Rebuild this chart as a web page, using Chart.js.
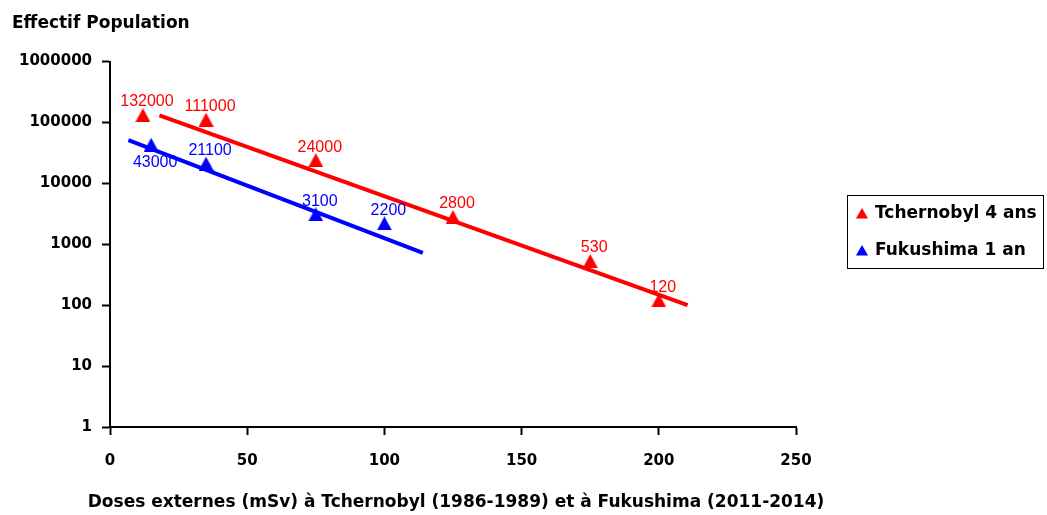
<!DOCTYPE html>
<html><head><meta charset="utf-8">
<script src="https://cdn.jsdelivr.net/npm/chart.js@4.4.1/dist/chart.umd.min.js"></script>
<style>html,body{margin:0;padding:0;background:#fff}</style>
</head><body>
<canvas id="c" width="1047" height="515"></canvas>
<script>
const chartTitle = 'Effectif Population';
const xAxisTitle = 'Doses externes (mSv) à Tchernobyl (1986-1989) et à Fukushima (2011-2014)';
const seriesNames = ['Tchernobyl 4 ans', 'Fukushima 1 an'];
const tchernobylDoses = [12, 35, 75, 125, 175, 200];
const tchernobylCounts = [132000, 111000, 24000, 2800, 530, 120];
const fukushimaDoses = [15, 35, 75, 100];
const fukushimaCounts = [43000, 21100, 3100, 2200];
const tchernobylTrendDoses = [18, 210.5];
const tchernobylTrendCounts = [130000, 100];
const fukushimaTrendDoses = [6.7, 114];
const fukushimaTrendCounts = [51000, 720];
const xTickValues = [0, 50, 100, 150, 200, 250];
const yTickValues = [1, 10, 100, 1000, 10000, 100000, 1000000];

const RED = '#ff0000', BLUE = '#0000ff';
const toPts = (xs, ys) => xs.map((x, i) => ({x: x, y: ys[i]}));

function triMarker(color, w, h) {
  const c = document.createElement('canvas');
  c.width = w; c.height = h;
  const g = c.getContext('2d');
  g.fillStyle = color;
  g.beginPath();
  g.moveTo(w / 2, 0);
  g.lineTo(w, h);
  g.lineTo(0, h);
  g.closePath();
  g.fill();
  return c;
}

const valueLabels = {
  id: 'valueLabels',
  afterDatasetsDraw(chart) {
    const ctx = chart.ctx;
    chart.data.datasets.forEach((ds, i) => {
      if (!ds.showValues) return;
      const meta = chart.getDatasetMeta(i);
      meta.data.forEach((pt, j) => {
        const below = (ds.labelsBelow || []).includes(j);
        ctx.save();
        ctx.fillStyle = ds.borderColor;
        ctx.font = '16px "Liberation Sans"';
        ctx.textAlign = 'center';
        ctx.textBaseline = 'middle';
        ctx.fillText(String(ds.data[j].y), pt.x + 4, pt.y + (below ? 18 : -13));
        ctx.restore();
      });
    });
  }
};

const extras = {
  id: 'extras',
  afterDraw(chart) {
    const ctx = chart.ctx;
    ctx.save();
    ctx.fillStyle = '#000';
    ctx.font = 'bold 17px "DejaVu Sans"';
    ctx.textAlign = 'left';
    ctx.textBaseline = 'alphabetic';
    ctx.fillText(chartTitle, 12, 28);
    // x axis title
    const xs = chart.scales.x;
    ctx.font = 'bold 17px "DejaVu Sans"';
    ctx.textAlign = 'center';
    ctx.textBaseline = 'middle';
    ctx.fillText(xAxisTitle, (xs.left + xs.right) / 2 + 3, 503);
    // legend
    const bx = 847.5, by = 195.5, bw = 196, bh = 73;
    ctx.strokeStyle = '#000';
    ctx.lineWidth = 1;
    ctx.strokeRect(bx, by, bw, bh);
    const rows = [
      {name: chart.data.datasets[0].label, color: chart.data.datasets[0].borderColor, y: 214},
      {name: chart.data.datasets[1].label, color: chart.data.datasets[1].borderColor, y: 251}
    ];
    ctx.font = 'bold 17px "DejaVu Sans"';
    ctx.textAlign = 'left';
    ctx.textBaseline = 'middle';
    rows.forEach(r => {
      ctx.fillStyle = r.color;
      const cx = 862, cy = r.y + 1, rr = 7;
      ctx.beginPath();
      ctx.moveTo(cx, cy - rr);
      ctx.lineTo(cx + rr * 0.866, cy + rr / 2);
      ctx.lineTo(cx - rr * 0.866, cy + rr / 2);
      ctx.closePath();
      ctx.fill();
      ctx.fillStyle = '#000';
      ctx.fillText(r.name, 875, r.y);
    });
    ctx.restore();
  }
};

const tickFont = {family: '"DejaVu Sans"', weight: 'bold', size: 15};
const redTri = triMarker(RED, 15, 14);
const blueTri = triMarker(BLUE, 15, 14);

new Chart(document.getElementById('c'), {
  type: 'scatter',
  data: {
    datasets: [
      {label: seriesNames[0], data: toPts(tchernobylDoses, tchernobylCounts), showLine: false,
       pointStyle: redTri, pointRadius: 8, pointHoverRadius: 8, backgroundColor: RED, borderColor: RED,
       showValues: true, labelsBelow: []},
      {label: seriesNames[1], data: toPts(fukushimaDoses, fukushimaCounts), showLine: false,
       pointStyle: blueTri, pointRadius: 8, pointHoverRadius: 8, backgroundColor: BLUE, borderColor: BLUE,
       showValues: true, labelsBelow: [0]},
      {label: 'trend1', data: toPts(tchernobylTrendDoses, tchernobylTrendCounts), showLine: true,
       borderColor: RED, borderWidth: 4, pointRadius: 0, pointHoverRadius: 0},
      {label: 'trend2', data: toPts(fukushimaTrendDoses, fukushimaTrendCounts), showLine: true,
       borderColor: BLUE, borderWidth: 4, pointRadius: 0, pointHoverRadius: 0}
    ]
  },
  options: {
    responsive: false,
    animation: false,
    layout: {padding: {top: 61.5, left: 0, right: 251, bottom: 0}},
    plugins: {legend: {display: false}, tooltip: {enabled: false}, title: {display: false}},
    scales: {
      x: {
        type: 'linear', min: 0, max: 250,
        afterBuildTicks: s => { s.ticks = xTickValues.map(v => ({value: v})); },
        afterFit: s => { s.height = 88; },
        grid: {drawOnChartArea: false, drawTicks: true, tickLength: 8, tickColor: '#000', tickWidth: 2},
        border: {display: true, color: '#000', width: 2},
        ticks: {color: '#000', font: tickFont, padding: 17, maxRotation: 0, callback: v => String(v)},
        title: {display: false}
      },
      y: {
        type: 'logarithmic', min: 1, max: 1000000,
        afterBuildTicks: s => { s.ticks = yTickValues.map(v => ({value: v})); },
        afterFit: s => { s.width = 110; },
        grid: {drawOnChartArea: false, drawTicks: true, tickLength: 8, tickColor: '#000', tickWidth: 2},
        border: {display: true, color: '#000', width: 2},
        ticks: {color: '#000', font: tickFont, padding: 10, callback: v => String(v)}
      }
    }
  },
  plugins: [valueLabels, extras]
});
</script>
</body></html>
